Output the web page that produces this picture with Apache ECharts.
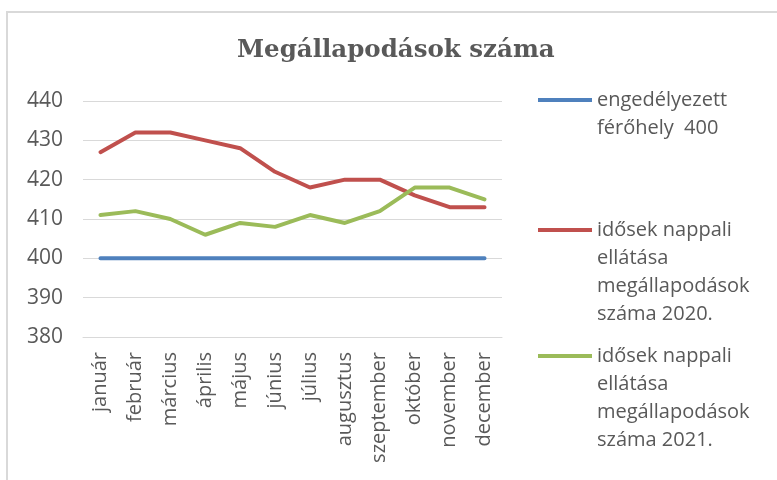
<!DOCTYPE html>
<html>
<head>
<meta charset="utf-8">
<script src="https://cdn.jsdelivr.net/npm/echarts@6/dist/echarts.min.js"></script>
<style>
  html, body { margin: 0; padding: 0; background: #fff; }
  #main { width: 777px; height: 480px; }
</style>
</head>
<body>
<div id="main"></div>
<script>
// hónapok
var months = ['január', 'február', 'március', 'április', 'május', 'június',
  'július', 'augusztus', 'szeptember', 'október', 'november', 'december'];
// engedélyezett férőhely
var limit400 = [400, 400, 400, 400, 400, 400, 400, 400, 400, 400, 400, 400];
// megállapodások 2020
var deals2020 = [427, 432, 432, 430, 428, 422, 418, 420, 420, 416, 413, 413];
// megállapodások 2021
var deals2021 = [411, 412, 410, 406, 409, 408, 411, 409, 412, 418, 418, 415];

var names = [
  'engedélyezett\nférőhely  400',
  'idősek nappali\nellátása\nmegállapodások\nszáma 2020.',
  'idősek nappali\nellátása\nmegállapodások\nszáma 2021.'
];
var colors = ['#4f81bd', '#c0504d', '#9bbb59'];

var lineH = 28;
var font = '"Open Sans", sans-serif';
var textColor = '#595959';

// egy jelmagyarázat-elem; üres sorok fölé, hogy a vonal az első sorhoz kerüljön
function legendItem(i, top) {
  var n = names[i].split('\n').length;
  var pad = new Array(n).join('\n');
  return {
    left: 538,
    top: top,
    padding: 0,
    orient: 'vertical',
    data: [names[i]],
    icon: 'rect',
    itemWidth: 54,
    itemHeight: 4,
    itemGap: 0,
    selectedMode: false,
    formatter: function (name) { return pad + name; },
    textStyle: {
      fontFamily: font,
      fontSize: 20,
      color: textColor,
      lineHeight: lineH
    }
  };
}

var myChart = echarts.init(document.getElementById('main'));

var option = {
  animation: false,
  color: colors,
  title: {
    text: 'Megállapodások száma',
    left: 237,
    top: 38,
    padding: 0,
    textStyle: {
      fontFamily: '"DejaVu Serif", serif',
      fontWeight: 'bold',
      fontSize: 24.5,
      color: textColor
    }
  },
  graphic: [{
    type: 'rect',
    shape: { x: 7, y: 12, width: 800, height: 500 },
    style: { fill: 'none', stroke: '#d9d9d9', lineWidth: 2 },
    silent: true
  }],
  legend: [legendItem(0, 58), legendItem(1, 132), legendItem(2, 258)],
  grid: { left: 83, right: 275, top: 101, bottom: 143 },
  xAxis: {
    type: 'category',
    data: months,
    boundaryGap: true,
    axisLine: { lineStyle: { color: '#d9d9d9', width: 1 } },
    axisTick: { show: false },
    axisLabel: {
      rotate: 90,
      margin: 15,
      interval: 0,
      fontFamily: font,
      fontSize: 20,
      color: textColor
    }
  },
  yAxis: {
    type: 'value',
    min: 380,
    max: 440,
    interval: 10,
    axisLine: { show: false },
    axisTick: { show: false },
    splitLine: { lineStyle: { color: '#d9d9d9', width: 1 } },
    axisLabel: {
      margin: 20,
      fontFamily: font,
      fontSize: 21,
      color: textColor
    }
  },
  series: [
    { name: names[0], type: 'line', data: limit400, showSymbol: false, lineStyle: { width: 4, cap: 'round' } },
    { name: names[1], type: 'line', data: deals2020, showSymbol: false, lineStyle: { width: 4, cap: 'round' } },
    { name: names[2], type: 'line', data: deals2021, showSymbol: false, lineStyle: { width: 4, cap: 'round' } }
  ]
};

myChart.setOption(option);
</script>
</body>
</html>
